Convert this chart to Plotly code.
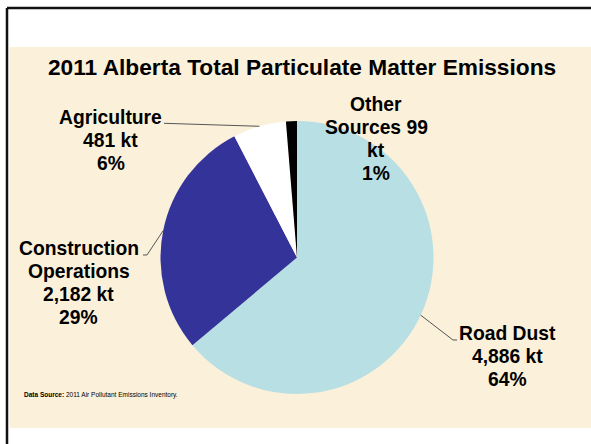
"""
2011 Alberta total particulate matter emissions - pie chart on a parchment slide
"""
import math
import plotly.graph_objects as go

# data
categories = ["Road Dust", "Construction Operations", "Agriculture", "Other Sources"]
emissions_kt = [4886, 2182, 481, 99]
slice_colors = ["#B8DFE3", "#333399", "#FFFFFF", "#000000"]
label_templates = [
    "Road Dust<br>{v} kt<br>{p}%",
    "Construction<br>Operations<br>{v} kt<br>{p}%",
    "Agriculture<br>{v} kt<br>{p}%",
    "Other<br>Sources {v}<br>kt<br>{p}%",
]
title_text = "2011 Alberta Total Particulate Matter Emissions"
source_text = "<b>Data Source:</b> 2011 Air Pollutant Emissions Inventory."

W, H = 591, 444
FONT = "Liberation Sans, Arial, sans-serif"
BG = "#FBF0DA"

# pie geometry in pixels
cx, cy, r = 297, 257.5, 136.5


def px(x):
    return x / W


def py(y):
    return 1 - y / H


fig = go.Figure()

fig.add_trace(go.Pie(
    labels=categories,
    values=emissions_kt,
    sort=False,
    direction="clockwise",
    rotation=0,
    marker=dict(colors=slice_colors, line=dict(width=0)),
    textinfo="none",
    hovertemplate="<b>%{label}</b><br>%{value:,} kt<br>%{percent}<extra></extra>",
    showlegend=False,
    domain=dict(x=[px(cx - r), px(cx + r)], y=[py(cy + r), py(cy - r)]),
))

total = sum(emissions_kt)

# label placement: centre x, centre y of first line (pixels)
label_pos = [(507.5, 333.6), (78.5, 248.6), (110.5, 117.6), (376, 104.9)]
# leader lines: label-side points (pixels), None = no line
leader_pts = [
    [(457, 340), (453, 340)],
    [(143, 255), (147, 255)],
    [(164, 123.3)],
    None,
]
line_pitch = 22.8
label_size = 19.3

annotations = []
shapes = []

# parchment panel + slide border
shapes.append(dict(type="rect", xref="paper", yref="paper",
                   x0=px(9.5), x1=1, y0=py(428), y1=py(47),
                   fillcolor=BG, line=dict(width=0), layer="below"))
shapes.append(dict(type="line", xref="paper", yref="paper",
                   x0=px(7), x1=1, y0=py(8), y1=py(8),
                   line=dict(color="#111111", width=2.5)))
shapes.append(dict(type="line", xref="paper", yref="paper",
                   x0=px(7), x1=px(7), y0=py(8), y1=0,
                   line=dict(color="#111111", width=2.5)))

cum = 0
for i, v in enumerate(emissions_kt):
    frac_mid = (cum + v / 2) / total
    cum += v
    pct = round(v / total * 100)
    text = label_templates[i].format(v=f"{v:,}", p=pct)
    lx, ly = label_pos[i]
    for j, line in enumerate(text.split("<br>")):
        annotations.append(dict(
            text=f"<b>{line}</b>", x=px(lx), y=py(ly + j * line_pitch),
            xref="paper", yref="paper", xanchor="center", yanchor="middle",
            showarrow=False, font=dict(family=FONT, size=label_size, color="#000000"),
        ))
    if leader_pts[i]:
        ang = frac_mid * 2 * math.pi
        ex = cx + r * math.sin(ang)
        ey = cy - r * math.cos(ang)
        pts = leader_pts[i] + [(ex, ey)]
        path = "M " + " L ".join(f"{px(x):.5f},{py(y):.5f}" for x, y in pts)
        shapes.append(dict(type="path", xref="paper", yref="paper", path=path,
                           line=dict(color="#555555", width=1)))

annotations.append(dict(
    text=f"<b>{title_text}</b>", x=px(301.5), y=py(67.4),
    xref="paper", yref="paper", xanchor="center", yanchor="middle",
    showarrow=False, font=dict(family=FONT, size=22.7, color="#000000"),
))
annotations.append(dict(
    text=source_text, x=px(21.5), y=py(394.5),
    xref="paper", yref="paper", xanchor="left", yanchor="middle",
    showarrow=False, font=dict(family=FONT, size=6.5, color="#000000"),
))

fig.update_layout(
    width=W,
    height=H,
    margin=dict(l=0, r=0, t=0, b=0),
    paper_bgcolor="#FFFFFF",
    plot_bgcolor="#FFFFFF",
    shapes=shapes,
    annotations=annotations,
)

# drop the default page margin so the figure sits at the window origin
fig.write_html("out.html",
               config={"displayModeBar": False},
               post_script="document.body.style.margin='0';document.body.style.overflow='hidden';")
